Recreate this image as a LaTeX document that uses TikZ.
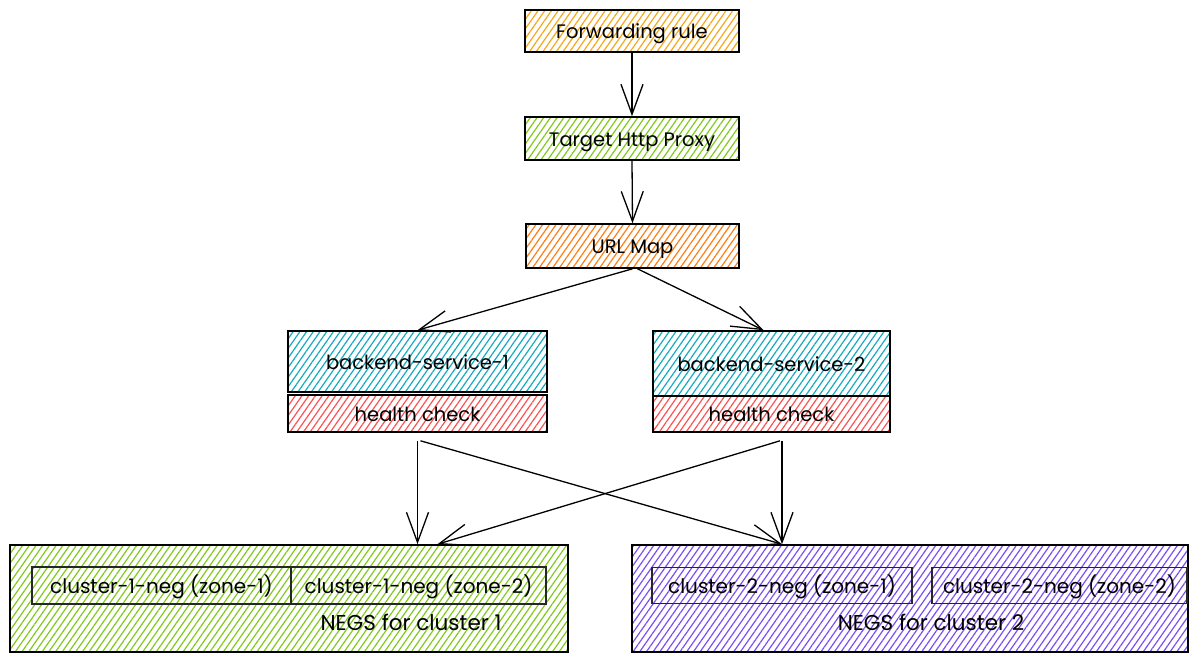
\documentclass[tikz,border=0pt]{standalone}
\usepackage{fontspec}
\setmainfont{Poppins}
\usetikzlibrary{arrows.meta,patterns.meta,calc}
\definecolor{cfr}{HTML}{F5A81C}
\definecolor{cgreen}{HTML}{82C91E}
\definecolor{curl}{HTML}{FD7E14}
\definecolor{ccyan}{HTML}{15AABF}
\definecolor{cred}{HTML}{FA5252}
\definecolor{cviolet}{HTML}{7950F2}
\tikzset{
  hatch/.style={pattern={Lines[angle=55,distance=5.5pt,line width=1.2pt]},pattern color=#1},
  box/.style={draw=black,line width=1.6pt,rectangle,inner sep=0pt,text height=17pt,text depth=2pt,font=\fontsize{19.5}{23}\selectfont},
  inbox/.style={draw=black!85,line width=1.2pt,rectangle,inner sep=0pt,text height=17pt,text depth=2pt,font=\fontsize{20}{24}\selectfont},
  lbl/.style={font=\fontsize{21.5}{26}\selectfont,inner sep=0pt,text height=17pt,text depth=2pt},
  arr/.style={line width=1.3pt,-{Straight Barb[length=30pt,width=22pt,line width=1.3pt]}},
}
\begin{document}
\begin{tikzpicture}[x=1pt,y=-1pt]
\fill[white] (0,0) rectangle (1200,664);
\useasboundingbox (0,0) rectangle (1200,664);

\node[box,hatch=cfr,minimum width=214pt,minimum height=42pt] (fr) at (632,31) {Forwarding rule};
\node[box,hatch=cgreen,minimum width=214pt,minimum height=43pt] (tp) at (632,138.5) {Target Http Proxy};
\node[box,hatch=curl,minimum width=213pt,minimum height=44pt] (um) at (632.5,246) {URL Map};

\node[box,hatch=ccyan,minimum width=259pt,minimum height=61pt] (bs1) at (417.5,361.5) {backend-service-1};
\node[box,hatch=cred,minimum width=259pt,minimum height=37pt] (hc1) at (417.5,413.5) {health check};
\node[box,hatch=ccyan,minimum width=237pt,minimum height=65pt] (bs2) at (771.5,363.5) {backend-service-2};
\node[box,hatch=cred,minimum width=237pt,minimum height=36pt] (hc2) at (771.5,414) {health check};

\node[box,hatch=cgreen,minimum width=558pt,minimum height=107pt] (neg1) at (289,598.5) {};
\node[inbox,minimum width=259pt,minimum height=37pt] (n1z1) at (161.5,585.5) {cluster-1-neg (zone-1)};
\node[inbox,minimum width=255pt,minimum height=37pt] (n1z2) at (418.5,585.5) {cluster-1-neg (zone-2)};
\node[lbl] (l1) at (411,623) {NEGS for cluster 1};

\node[box,hatch=cviolet,minimum width=556pt,minimum height=107pt] (neg2) at (910,598.5) {};
\node[inbox,minimum width=260pt,minimum height=36pt] (n2z1) at (782,585.5) {cluster-2-neg (zone-1)};
\node[inbox,minimum width=255pt,minimum height=36pt] (n2z2) at (1059.5,585.5) {cluster-2-neg (zone-2)};
\node[lbl] (l2) at (931,623) {NEGS for cluster 2};

\draw[arr] (fr.south) -- (tp.north);
\draw[arr] (tp.south) -- (um.north);
\draw[arr] (um.south) -- (bs1.north);
\draw[arr] ([xshift=5pt]um.south) -- ([xshift=-8pt]bs2.north);

\draw[arr] ([yshift=-8pt]hc1.south) -- (hc1.south |- neg1.north);
\draw[arr] ([xshift=3pt,yshift=-8pt]hc1.south) -- (n2z1.center |- neg2.north);
\draw[arr] ([xshift=10.5pt,yshift=-8pt]hc2.south) -- ([xshift=10.5pt]hc2.south |- neg2.north);
\draw[arr] ([xshift=8.5pt,yshift=-8pt]hc2.south) -- ([xshift=20pt]hc1.south |- neg1.north);
\end{tikzpicture}
\end{document}
